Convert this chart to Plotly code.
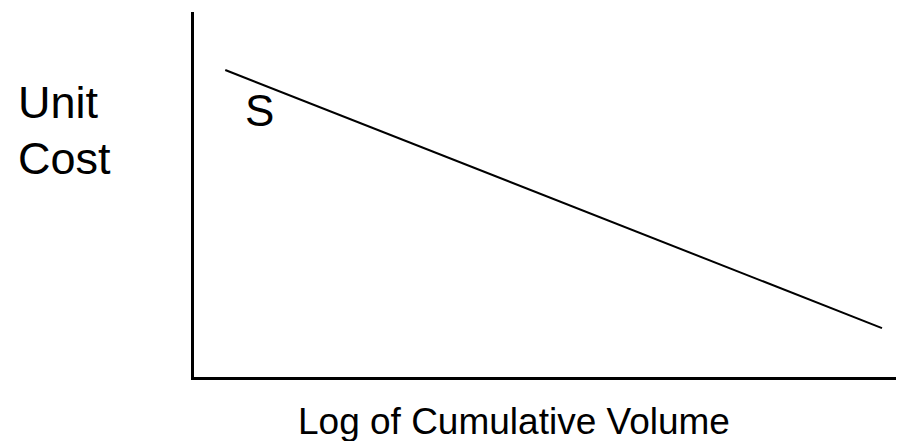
import plotly.graph_objects as go

# experience curve (arbitrary 0-10 units)
log_volume = [0.44, 9.69]
unit_cost = [8.41, 1.34]

y_label = ["Unit", "Cost"]
x_label = "Log of Cumulative Volume"
curve_label = "S"

FONT = "Arial, Liberation Sans, sans-serif"

fig = go.Figure()

fig.add_trace(
    go.Scatter(
        x=log_volume,
        y=unit_cost,
        mode="lines",
        line=dict(color="black", width=2),
        showlegend=False,
        hoverinfo="skip",
    )
)

# label on the curve
fig.add_annotation(
    x=0.92, y=7.31, xref="x", yref="y",
    text=curve_label, showarrow=False,
    font=dict(family=FONT, size=44, color="black"),
)

# y label, two lines placed separately
fig.add_annotation(
    x=-0.251, y=0.752, xref="paper", yref="paper",
    xanchor="left", yanchor="middle",
    text=y_label[0], showarrow=False,
    font=dict(family=FONT, size=45, color="black"),
)
fig.add_annotation(
    x=-0.251, y=0.599, xref="paper", yref="paper",
    xanchor="left", yanchor="middle",
    text=y_label[1], showarrow=False,
    font=dict(family=FONT, size=45, color="black"),
)

# x label
fig.add_annotation(
    x=0.45, y=-0.122, xref="paper", yref="paper",
    xanchor="center", yanchor="middle",
    text=x_label, showarrow=False,
    font=dict(family=FONT, size=37, color="black"),
)

# page body has an 8px margin, so the figure is 8px short each way
fig.update_layout(
    width=896,
    height=433,
    margin=dict(l=186, r=0, t=4, b=64),
    paper_bgcolor="white",
    plot_bgcolor="white",
    font=dict(family=FONT),
)

fig.update_xaxes(
    range=[0, 10], showgrid=False, zeroline=False, showticklabels=False,
    ticks="", showline=True, linecolor="black", linewidth=3,
)
fig.update_yaxes(
    range=[0, 10], showgrid=False, zeroline=False, showticklabels=False,
    ticks="", showline=True, linecolor="black", linewidth=3,
)

fig.write_html("out.html")
